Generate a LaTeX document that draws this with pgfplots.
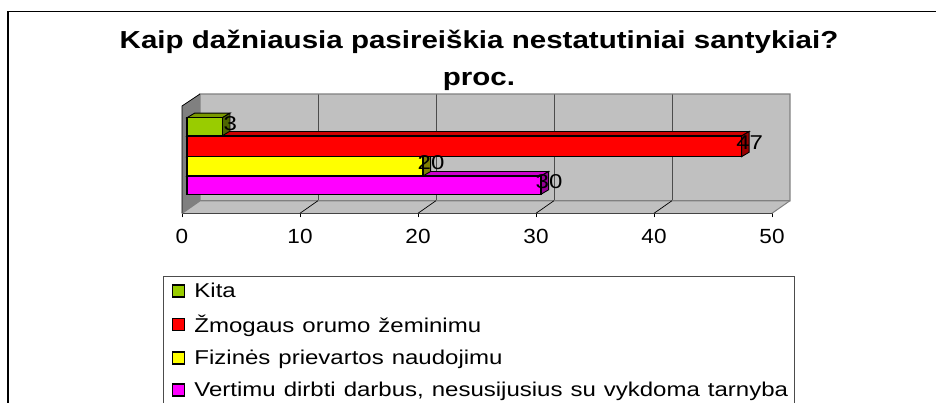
\documentclass[border=0pt]{standalone}
\usepackage{pgfplots}
\pgfplotsset{compat=1.18}
\usepackage{fontspec}
\setmainfont{Liberation Sans}
\definecolor{wall}{HTML}{C0C0C0}
\definecolor{wallD}{HTML}{808080}
\definecolor{kita}{HTML}{99CC00}
\definecolor{kitaT}{HTML}{7A9900}
\definecolor{kitaS}{HTML}{4D6600}
\definecolor{red1}{HTML}{FF0000}
\definecolor{redT}{HTML}{CC0000}
\definecolor{redS}{HTML}{990000}
\definecolor{yel}{HTML}{FFFF00}
\definecolor{yelT}{HTML}{CCCC00}
\definecolor{yelS}{HTML}{808000}
\definecolor{mag}{HTML}{FF00FF}
\definecolor{magT}{HTML}{CC00CC}
\definecolor{magS}{HTML}{990099}
\newcommand{\st}[1]{\scalebox{1.2}[1]{#1}}
\pgfplotsset{
  lab/.style={point meta=x,
    nodes near coords={\st{\pgfmathprintnumber{\pgfplotspointmeta}}},
    every node near coord/.append style={anchor=center,font=\fontsize{20}{20}\selectfont,text=black,inner sep=0pt,xshift=8pt,yshift=3.3pt}},
  swatch/.style={legend image code/.code={\draw[black,line width=1.4pt,fill=#1] (4pt,-6pt) rectangle (16pt,6pt);\path[draw=none,fill=none] (0pt,0pt) -- (24pt,0pt);}}
}
\begin{document}
\begin{tikzpicture}[x=1pt,y=1pt]
\path[use as bounding box,clip] (0,0) rectangle (936,403);
\fill[white] (0,0) rectangle (936,403);
% outer frame
\draw[black,line width=1.2pt] (8,-5) -- (8,391.7) -- (941,391.7);
% base axis: walls and the value scale
\begin{axis}[
  at={(182pt,189.7pt)},anchor=south west,
  scale only axis,width=590pt,height=119.3pt,
  xmin=0,xmax=50,ymin=0,ymax=119.3,clip=false,
  axis y line=none,axis x line=bottom,axis line style={-,black,line width=1pt},
  xtick={0,10,20,30,40,50},tick align=outside,
  major tick length=4pt,tick style={black,line width=0.8pt},
  /pgf/number format/assume math mode=true,
  xticklabel={\scalebox{1.1}[1]{\pgfmathprintnumber{\tick}}},
  tick label style={font=\fontsize{20.5}{22}\selectfont},
  xticklabel style={yshift=-8pt},
]
\fill[wallD] (axis cs:0,0) -- (axis cs:0,107.3) -- (axis cs:1.525,119.3) -- (axis cs:1.525,12.6) -- cycle;
\fill[wall] (axis cs:1.525,12.6) rectangle (axis cs:51.525,119.3);
\fill[wall] (axis cs:0,0) -- (axis cs:1.525,12.6) -- (axis cs:51.525,12.6) -- (axis cs:50,0) -- cycle;
\foreach \v in {11.525,21.525,31.525,41.525}{
  \edef\tmp{\noexpand\draw[black!70,line width=0.8pt] (axis cs:\v,12.6) -- (axis cs:\v,119.3);}\tmp
}
\draw[wallD,line width=1.3pt] (axis cs:0,0) -- (axis cs:1.525,12.6) -- (axis cs:51.525,12.6) -- (axis cs:51.525,119.3) -- (axis cs:1.525,119.3) -- (axis cs:1.525,12.6);
\draw[black,line width=0.8pt] (axis cs:0,0) -- (axis cs:0,107.3) -- (axis cs:1.525,119.3);
\foreach \v in {10,20,30,40}{
  \pgfmathsetmacro\w{\v+1.525}
  \edef\tmp{\noexpand\draw[black,line width=0.7pt] (axis cs:\v,0) -- (axis cs:\w,12.6);}\tmp
}
\draw[wallD,line width=1pt] (axis cs:50,0) -- (axis cs:51.525,12.6);
\end{axis}
% bars
\begin{axis}[
  at={(182pt,189.7pt)},anchor=south west,
  scale only axis,width=590pt,height=119.3pt,
  xmin=-0.424,xmax=49.576,ymin=0,ymax=119.3,clip=false,
  hide axis,
  /pgf/number format/assume math mode=true,
  legend style={at={(axis cs:-2.03,-62.4)},anchor=north west,draw=black!70,line width=0.8pt,fill=white,
    font=\fontsize{20}{22}\selectfont,cells={anchor=west},row sep=12pt,
    inner xsep=5pt,inner ysep=5pt,text width=593pt},
]
\addlegendimage{swatch=kita}\addlegendentry{\st{Kita}}
\addlegendimage{swatch=red1}\addlegendentry{\st{Žmogaus orumo žeminimu}}
\addlegendimage{swatch=yel}\addlegendentry{\st{Fizinės prievartos naudojimu}}
\addlegendimage{swatch=mag}\addlegendentry{\st{Vertimu dirbti darbus, nesusijusius su vykdoma tarnyba}}
% magenta
\addplot[forget plot,draw=black,line width=0.9pt,fill=magT] coordinates {(0,37.3) (0.64,41.8) (30.64,41.8) (30,37.3)} --cycle;
\addplot[forget plot,draw=black,line width=0.9pt,fill=magS] coordinates {(30,37.3) (30.64,41.8) (30.64,23.5) (30,19)} --cycle;
\addplot[forget plot,xbar,bar width=18.3pt,draw=black,line width=1.2pt,fill=mag,lab] coordinates {(30,28.2)};
% yellow
\addplot[forget plot,draw=black,line width=0.9pt,fill=yelT] coordinates {(0,56.6) (0.64,61.1) (20.64,61.1) (20,56.6)} --cycle;
\addplot[forget plot,draw=black,line width=0.9pt,fill=yelS] coordinates {(20,56.6) (20.64,61.1) (20.64,41.8) (20,37.3)} --cycle;
\addplot[forget plot,xbar,bar width=19.3pt,draw=black,line width=1.2pt,fill=yel,lab] coordinates {(20,47)};
% red
\addplot[forget plot,draw=black,line width=0.9pt,fill=redT] coordinates {(0,77.3) (0.64,81.8) (47.64,81.8) (47,77.3)} --cycle;
\addplot[forget plot,draw=black,line width=0.9pt,fill=redS] coordinates {(47,77.3) (47.64,81.8) (47.64,61.1) (47,56.6)} --cycle;
\addplot[forget plot,xbar,bar width=20.7pt,draw=black,line width=1.2pt,fill=red1,lab] coordinates {(47,67)};
% kita
\addplot[forget plot,draw=black,line width=0.9pt,fill=kitaT] coordinates {(0,95.6) (0.64,100.1) (3.64,100.1) (3,95.6)} --cycle;
\addplot[forget plot,draw=black,line width=0.9pt,fill=kitaS] coordinates {(3,95.6) (3.64,100.1) (3.64,82.1) (3,77.6)} --cycle;
\addplot[forget plot,xbar,bar width=18pt,draw=black,line width=1.2pt,fill=kita,lab] coordinates {(3,86.6)};
\end{axis}
\node[align=center,font=\bfseries\fontsize{24.6}{37}\selectfont,inner sep=0pt] at (479,343) {\st{Kaip dažniausia pasireiškia nestatutiniai santykiai?}\\[0pt]\st{proc.}};
\end{tikzpicture}
\end{document}
